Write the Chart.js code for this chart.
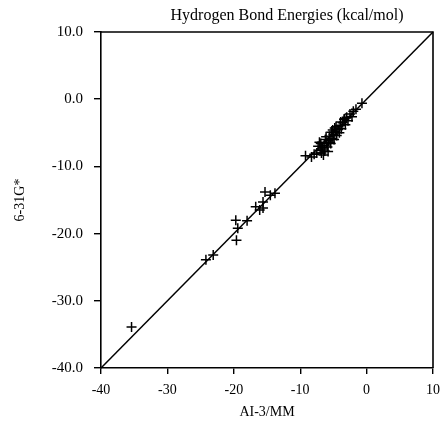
<!DOCTYPE html>
<html>
<head>
<meta charset="utf-8">
<script src="https://cdn.jsdelivr.net/npm/chart.js@4/dist/chart.umd.min.js"></script>
<style>
  html, body { margin:0; padding:0; background:#fff; }
  #wrap { width:440px; height:427px; }
</style>
</head>
<body>
<div id="wrap"><canvas id="hb" width="440" height="427"></canvas></div>
<script>
// energías de enlace de hidrógeno: AI-3/MM (x) contra 6-31G* (y)
const titleText = 'Hydrogen Bond Energies (kcal/mol)';
const xLabel = 'AI-3/MM';
const yLabel = '6-31G*';
const xTicks = [-40, -30, -20, -10, 0, 10];
const yTicks = [10, 0, -10, -20, -30, -40];

const aiX = [
  -35.4, -24.2, -23.1, -19.6, -19.7, -19.4, -18.0, -16.7, -16.1, -15.6, -15.3, -15.6, -13.8, -14.5,
  -9.2, -8.3, -7.9, -7.5, -7.0, -6.8, -6.6, -6.4, -6.3, -6.0, -5.9, -5.7, -5.6, -5.4, -5.2, -5.0,
  -4.9, -4.7, -4.5, -4.3, -4.1, -4.0, -3.8, -3.6, -3.4, -3.2, -3.0, -2.8, -2.5, -2.2, -2.0, -1.6,
  -0.7, -6.2, -5.3, -6.9, -7.3, -4.6, -6.5, -5.8,
  -7.1, -6.1, -5.5, -4.8, -3.9, -3.3, -6.7, -5.1
];
const g631 = [
  -33.9, -23.9, -23.2, -21.0, -18.0, -19.2, -18.1, -16.0, -16.5, -16.2, -13.8, -15.3, -14.0, -14.3,
  -8.4, -8.6, -8.2, -8.0, -7.6, -8.0, -7.2, -6.9, -7.7, -6.5, -7.1, -6.2, -5.5, -6.6, -5.8, -5.2,
  -6.0, -4.8, -5.4, -4.5, -5.0, -3.9, -4.4, -3.5, -3.0, -3.8, -2.7, -3.2, -2.2, -2.6, -1.8, -1.5,
  -0.6, -6.0, -4.9, -6.6, -7.0, -4.1, -8.3, -7.8,
  -6.4, -5.6, -6.4, -4.3, -3.4, -2.9, -7.4, -4.6
];
// recta y = x
const diagX = [-40, 10];
const diagY = [-40, 10];

const serif = '"Liberation Serif", "DejaVu Serif", serif';

const boxPlugin = {
  id: 'box',
  afterDraw(chart) {
    const {ctx, chartArea: a} = chart;
    ctx.save();
    ctx.strokeStyle = '#000';
    ctx.lineWidth = 1.6;
    ctx.beginPath();
    ctx.moveTo(a.left, a.top);
    ctx.lineTo(a.right, a.top);
    ctx.lineTo(a.right, a.bottom);
    ctx.stroke();
    // título desplazado a la derecha, como en la figura
    ctx.fillStyle = '#000';
    ctx.font = '16px ' + serif;
    ctx.textAlign = 'center';
    ctx.textBaseline = 'middle';
    ctx.fillText(titleText, 287, 16);
    ctx.restore();
  }
};

new Chart(document.getElementById('hb'), {
  type: 'scatter',
  data: {
    datasets: [
      {
        data: aiX.map((x, i) => ({x, y: g631[i]})),
        pointStyle: 'cross',
        pointRadius: 5,
        borderColor: '#000',
        borderWidth: 1.5,
        backgroundColor: '#000'
      },
      {
        type: 'line',
        data: diagX.map((x, i) => ({x, y: diagY[i]})),
        borderColor: '#000',
        borderWidth: 1.5,
        pointRadius: 0,
        fill: false
      }
    ]
  },
  options: {
    responsive: false,
    animation: false,
    clip: false,
    layout: {padding: {top: 32, right: 7, left: 0, bottom: 0}},
    plugins: {legend: {display: false}, tooltip: {enabled: false}},
    scales: {
      x: {
        type: 'linear', min: -40, max: 10,
        afterBuildTicks: s => { s.ticks = xTicks.map(v => ({value: v})); },
        afterFit: s => { s.height = 59; s.paddingRight = 0; },
        grid: {drawOnChartArea: false, tickLength: 6, color: '#000', lineWidth: 1.4},
        border: {color: '#000', width: 1.6},
        ticks: {color: '#000', padding: 8, font: {family: serif, size: 14}, callback: v => String(v)},
        title: {display: true, text: xLabel, color: '#000', padding: {top: 4, bottom: 6}, font: {family: serif, size: 14}}
      },
      y: {
        type: 'linear', min: -40, max: 10,
        afterBuildTicks: s => { s.ticks = yTicks.map(v => ({value: v})); },
        afterFit: s => { s.width = 101; },
        grid: {drawOnChartArea: false, tickLength: 7, color: '#000', lineWidth: 1.4},
        border: {color: '#000', width: 1.6},
        ticks: {color: '#000', padding: 11, font: {family: serif, size: 15}, callback: v => v.toFixed(1)},
        title: {display: true, text: yLabel, color: '#000', padding: {top: 12, bottom: 0}, font: {family: serif, size: 14}}
      }
    }
  },
  plugins: [boxPlugin]
});
</script>
</body>
</html>
